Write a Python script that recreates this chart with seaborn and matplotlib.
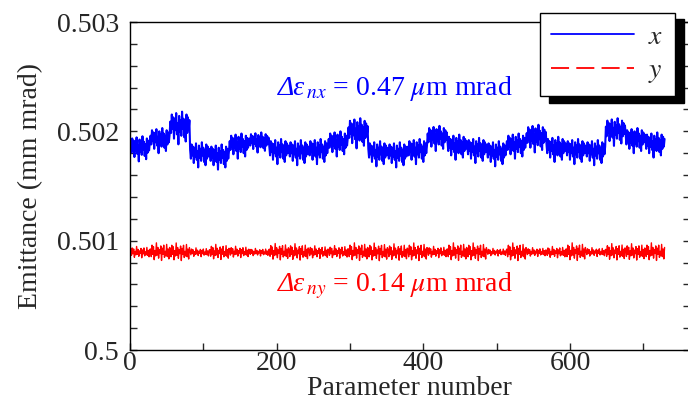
import numpy as np
import pandas as pd
import matplotlib
matplotlib.use("Agg")
import matplotlib.pyplot as plt
from matplotlib.lines import Line2D
from matplotlib.transforms import IdentityTransform
from matplotlib.ticker import MultipleLocator, FixedLocator, FixedFormatter
import seaborn as sns

# 729 parameter sets scanned in 27 blocks of 27 sets each
block_len = 27

# mean emittance of each block (mm mrad)
x_level = [0.501855, 0.50193, 0.50205, 0.50180, 0.50178, 0.50188, 0.50191, 0.50183, 0.50182,
           0.50183, 0.50190, 0.50200, 0.50181, 0.50180, 0.50183, 0.50195, 0.50187, 0.50184,
           0.50181, 0.50188, 0.50195, 0.50185, 0.50183, 0.50182, 0.50201, 0.50193, 0.50189]
y_level = [0.500893, 0.500896, 0.500895, 0.500892, 0.500894, 0.500895, 0.500893, 0.500896, 0.500894,
           0.500893, 0.500895, 0.500896, 0.500894, 0.500893, 0.500895, 0.500894, 0.500896, 0.500895,
           0.500893, 0.500895, 0.500894, 0.500893, 0.500896, 0.500894, 0.500895, 0.500894, 0.500896]

# ripple amplitude within each block
x_spread = [10e-5, 10e-5, 13e-5, 10e-5, 10e-5, 10e-5, 8e-5, 10e-5, 10e-5,
            10e-5, 10e-5, 12e-5, 10e-5, 10e-5, 10e-5, 10e-5, 10e-5, 10e-5,
            10e-5, 10e-5, 11e-5, 10e-5, 10e-5, 10e-5, 11e-5, 10e-5, 10e-5]
y_spread = [4.5e-5, 7e-5, 7e-5, 3.5e-5, 6e-5, 4.5e-5, 3e-5, 6.5e-5, 6.5e-5,
            5e-5, 5e-5, 7e-5, 7e-5, 6.5e-5, 7e-5, 4.5e-5, 7e-5, 7e-5,
            3e-5, 7e-5, 3.5e-5, 4.5e-5, 7e-5, 3.5e-5, 6.5e-5, 6.5e-5, 7e-5]

# ripple shape over the fast parameters inside one block
x_ripple = [0.3, -0.5, 0.8, -0.2, 0.6, -0.9, 0.5, -0.3, 0.9, -0.6, 0.2, -1.3, 0.7, -0.4,
            0.4, -0.7, 1.0, -0.2, 0.5, -0.8, 0.3, -1.1, 0.8, -0.5, 0.6, -0.3, 0.4]
y_ripple = [0.4, -0.6, 0.9, -0.3, 0.7, -1.0, 0.2, -0.5, 1.2, -0.4, 0.6, -0.8, 0.3, -0.2,
            0.8, -1.1, 0.5, -0.3, 0.9, -0.7, 0.1, -0.5, 1.0, -0.6, 0.4, -0.9, 0.6]

y_ticks = [0.5, 0.501, 0.502, 0.503]
y_tick_labels = ["0.5", "0.501", "0.502", "0.503"]
x_ticks = [0, 200, 400, 600]

# spread annotations: symbol, subscript, remainder
dx_sub, dx_rest = "nx", r"= 0.47 $\mu$m mrad"
dy_sub, dy_rest = "ny", r"= 0.14 $\mu$m mrad"

# assemble the table
rows = []
for b in range(len(x_level)):
    for k in range(block_len):
        rows.append({
            "param": b * block_len + k + 1,
            "ex": x_level[b] + x_spread[b] * x_ripple[k],
            "ey": y_level[b] + y_spread[b] * y_ripple[k],
        })
df = pd.DataFrame(rows)

sns.set_style("ticks")
plt.rcParams["font.family"] = ["Liberation Serif", "DejaVu Serif"]
plt.rcParams["mathtext.fontset"] = "stix"
plt.rcParams["font.size"] = 20

fig = plt.figure(figsize=(6.88, 4.04), dpi=100)
ax = fig.add_axes([130 / 688, (404 - 350) / 404, (689.5 - 130) / 688, (350 - 22) / 404])

blue = "#0000ff"
red = "#ff0000"
sns.lineplot(data=df, x="param", y="ex", ax=ax, color=blue, lw=1.5, estimator=None)
sns.lineplot(data=df, x="param", y="ey", ax=ax, color=red, lw=1.0, estimator=None)

ax.set_xlim(0, 763)
ax.set_ylim(0.5, 0.503)
ax.xaxis.set_major_locator(FixedLocator(x_ticks))
ax.xaxis.set_minor_locator(MultipleLocator(100))
ax.yaxis.set_major_locator(FixedLocator(y_ticks))
ax.yaxis.set_major_formatter(FixedFormatter(y_tick_labels))
ax.yaxis.set_minor_locator(MultipleLocator(0.0002))
ax.tick_params(axis="both", which="both", direction="in", width=1.0, labelsize=20)
ax.tick_params(axis="y", which="both", length=5, right=True, pad=8)
ax.tick_params(axis="x", which="both", length=5, top=False, pad=1)
for s in ax.spines.values():
    s.set_linewidth(1.0)
    s.set_color("black")

ax.set_xlabel("Parameter number", fontsize=20, labelpad=0)
ax.set_ylabel("Emittance (mm mrad)", fontsize=20, labelpad=10)


def spread_label(x, y, sub, rest, color):
    # italic "Δε" followed by the subscript and the value
    head = ax.text(x, y, "Δε", style="italic", color=color, fontsize=20,
                   ha="left", va="baseline")
    fig.canvas.draw()
    bb = head.get_window_extent()
    _, yd = ax.transData.transform((x, y))
    ax.text(bb.x1 + 0.5, yd, "${}_{" + sub + "}$ " + rest, color=color, fontsize=20,
            ha="left", va="baseline", transform=IdentityTransform())


spread_label(202, 0.502336, dx_sub, dx_rest, blue)
spread_label(202, 0.500539, dy_sub, dy_rest, red)

handles = [Line2D([], [], color=blue, lw=1.3),
           Line2D([], [], color=red, lw=1.3, dashes=(10, 4))]
leg = fig.legend(handles, ["$x$", "$y$"], loc="upper left",
                 bbox_to_anchor=(540 / 688, 1 - 13 / 404), bbox_transform=fig.transFigure,
                 borderaxespad=0, frameon=True, fancybox=False,
                 shadow={"color": "black", "alpha": 1, "ox": 6.5, "oy": -4.5},
                 handlelength=3.0, handletextpad=0.5, labelspacing=0.3,
                 borderpad=0.4, fontsize=20)
leg.get_frame().set_edgecolor("black")
leg.get_frame().set_linewidth(1.0)
leg.get_frame().set_alpha(1)

fig.savefig("out.png", dpi=100)
